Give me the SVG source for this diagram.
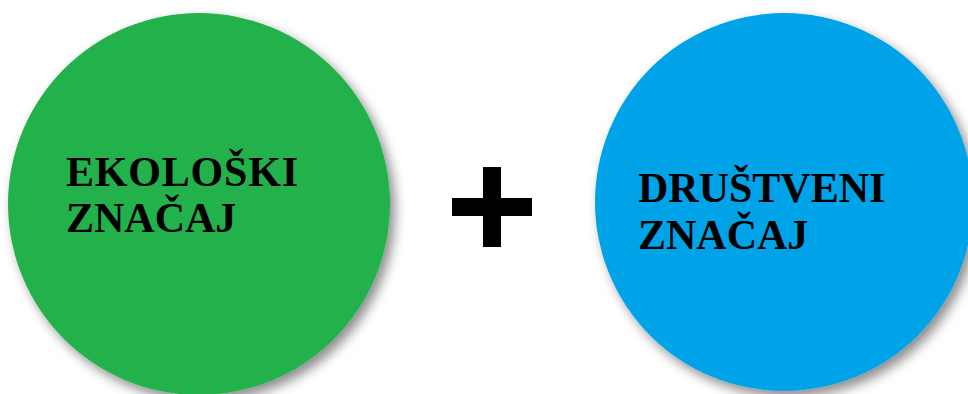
<svg xmlns="http://www.w3.org/2000/svg" width="968" height="394" viewBox="0 0 968 394">
<style>
.lbl{font-family:"Liberation Serif","Times New Roman",serif;font-weight:bold;font-size:42px;fill:#000}
</style>
<defs>
<filter id="sh" x="-20%" y="-20%" width="140%" height="140%">
<feDropShadow dx="5" dy="6" stdDeviation="6" flood-color="#000" flood-opacity="0.45"/>
</filter>
</defs>
<rect width="968" height="394" fill="#fff"/>
<g id="ekoloski">
<circle cx="199" cy="204" r="191" fill="#22B14C" filter="url(#sh)"/>
<text class="lbl" x="66" y="186" textLength="232" lengthAdjust="spacing">EKOLOŠKI</text>
<text class="lbl" x="66" y="232">ZNAČAJ</text>
</g>
<g id="plus">
<rect x="483" y="167" width="18" height="80" fill="#000"/>
<rect x="452" y="198" width="80" height="18" fill="#000"/>
</g>
<g id="drustveni">
<circle cx="784" cy="202" r="189" fill="#00A2E8" filter="url(#sh)"/>
<text class="lbl" x="638" y="202">DRUŠTVENI</text>
<text class="lbl" x="638" y="249">ZNAČAJ</text>
</g>
<g id="connectors"/>
</svg>
